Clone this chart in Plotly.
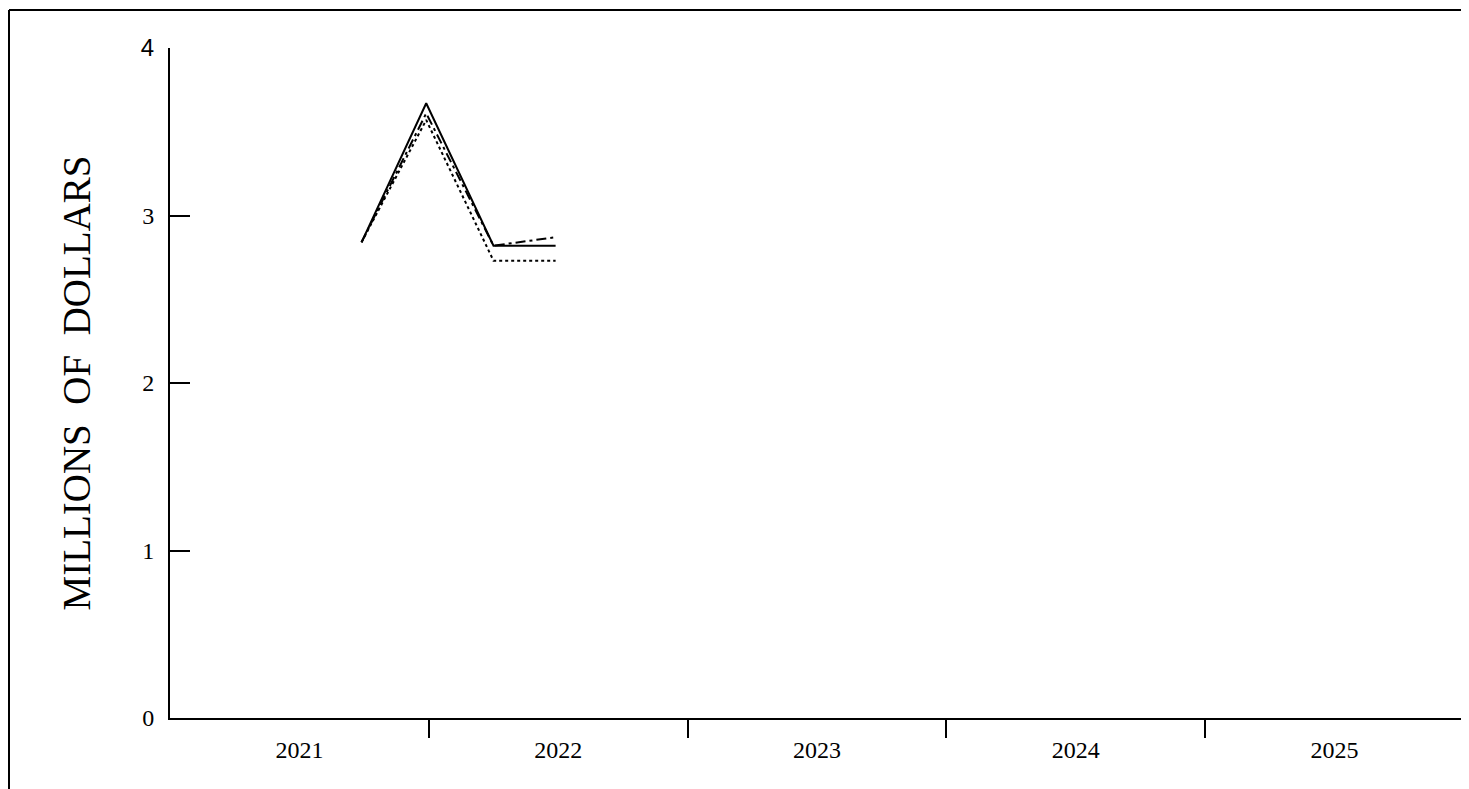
import plotly.graph_objects as go

# Data (x in fractional years)
x_pos = [2021.74, 2021.99, 2022.25, 2022.49]
series_solid = [2.84, 3.67, 2.82, 2.82]
series_dashdot = [2.84, 3.61, 2.82, 2.87]
series_dotted = [2.84, 3.57, 2.73, 2.73]

year_labels = ["2021", "2022", "2023", "2024", "2025"]
year_centers = [2021.5, 2022.5, 2023.5, 2024.5, 2025.5]
year_bounds = [2022, 2023, 2024, 2025, 2026]
y_ticks = [0, 1, 2, 3, 4]

# page body has an 8px offset; figure sized/margined to compensate
OFF = 8
W, H = 1469 - OFF, 789 - OFF
ML, MT = 170 - OFF, 48 - OFF
PW, PH = 1294, 670
MR = W - ML - PW
MB = H - MT - PH

FONT = "Liberation Serif, Times New Roman, serif"

fig = go.Figure()
fig.add_trace(go.Scatter(x=x_pos, y=series_dotted, mode="lines",
                         line=dict(color="black", width=2, dash="3px,3px")))
fig.add_trace(go.Scatter(x=x_pos, y=series_dashdot, mode="lines",
                         line=dict(color="black", width=2, dash="10px,4px,3px,4px")))
fig.add_trace(go.Scatter(x=x_pos, y=series_solid, mode="lines",
                         line=dict(color="black", width=2)))

def px_x(p):
    return (p - OFF - ML) / PW

def px_y(p):
    return (H - MB - (p - OFF)) / PH

# Outer frame (partially visible: left and top edges)
fig.add_shape(type="line", xref="paper", yref="paper",
              x0=px_x(9), x1=px_x(9), y0=px_y(10), y1=px_y(800),
              line=dict(color="black", width=2))
fig.add_shape(type="line", xref="paper", yref="paper",
              x0=px_x(9), x1=px_x(1480), y0=px_y(10), y1=px_y(10),
              line=dict(color="black", width=2))

fig.update_layout(
    width=W, height=H,
    margin=dict(l=ML, r=MR, t=MT, b=MB, pad=0),
    paper_bgcolor="white", plot_bgcolor="white",
    showlegend=False,
    font=dict(family=FONT, color="black", size=24),
    xaxis=dict(
        range=[2021, 2026], showgrid=False, zeroline=False,
        showline=True, linecolor="black", linewidth=2,
        tickmode="array", tickvals=year_centers, ticktext=year_labels,
        ticks="", tickfont=dict(family=FONT, size=24), ticklabelstandoff=9,
        minor=dict(ticks="outside", tickmode="array",
                   tickvals=year_bounds,
                   ticklen=18, tickwidth=2, tickcolor="black"),
    ),
    yaxis=dict(
        range=[0, 4], showgrid=False, zeroline=False,
        showline=True, linecolor="black", linewidth=2,
        tickmode="array", tickvals=y_ticks,
        ticktext=["0", "1", "2", "3",
                  "<span style='font-family:Liberation Sans, Arial, sans-serif'>4</span>"],
        ticks="inside", ticklen=20, tickwidth=2, tickcolor="black",
        tickfont=dict(family=FONT, size=24), ticklabelstandoff=9,
        title=dict(text="MILLIONS  OF  DOLLARS", font=dict(family=FONT, size=39),
                   standoff=38),
    ),
)

fig.write_html("out.html")
